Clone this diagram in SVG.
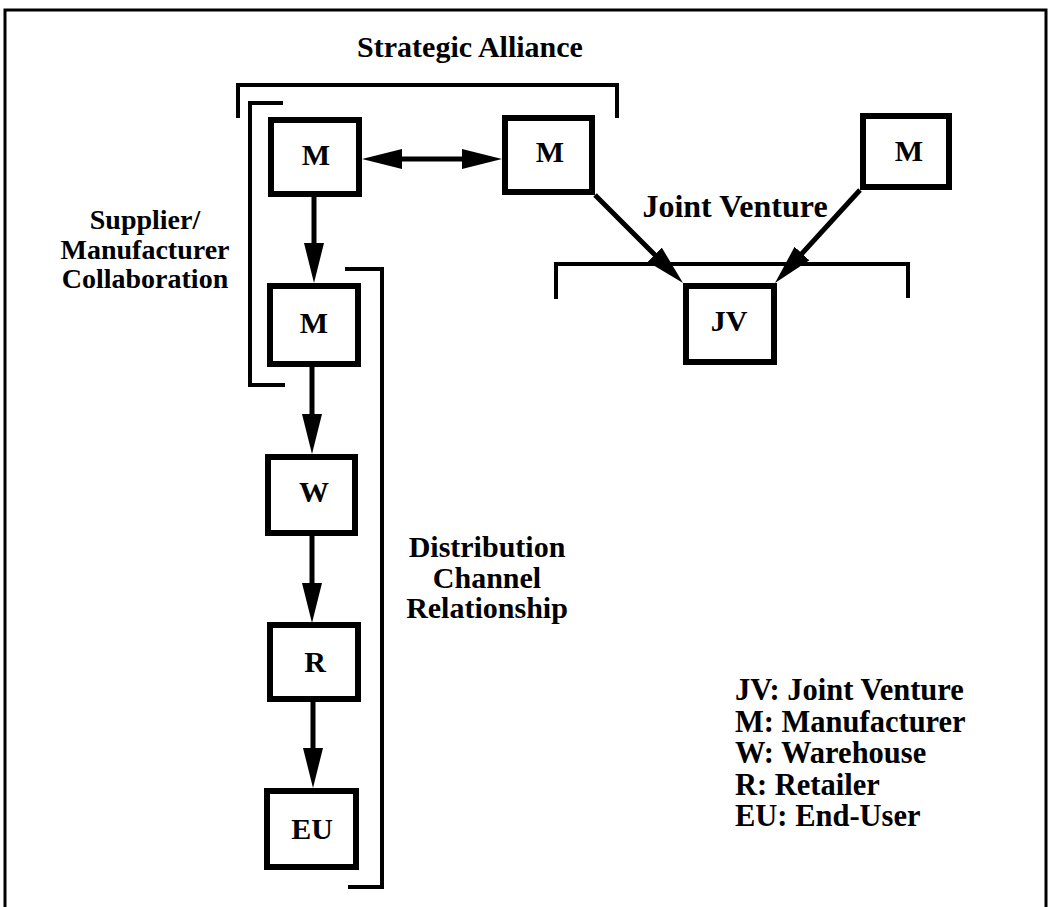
<svg xmlns="http://www.w3.org/2000/svg" width="1048" height="907" viewBox="0 0 1048 907">
<style>
  .box { fill: #fff; stroke: #000; stroke-width: 6; }
  .br { fill: none; stroke: #000; stroke-width: 4; }
  .ar { fill: none; stroke: #000; stroke-width: 5; marker-end: url(#head); }
  text { font-family: "Liberation Serif", "Times New Roman", serif; font-weight: bold; fill: #000; }
  .nl { font-size: 30px; text-anchor: middle; }
  .lb { font-size: 30px; text-anchor: middle; }
  .sm { font-size: 28px; text-anchor: middle; }
  .lg { font-size: 30.5px; }
</style>
<defs>
  <marker id="head" markerUnits="userSpaceOnUse" markerWidth="40" markerHeight="20" refX="5" refY="10" orient="auto-start-reverse" viewBox="0 0 40 20">
    <path d="M0,0 L40,10 L0,20 z" fill="#000"/>
  </marker>
</defs>
<rect x="0" y="0" width="1048" height="907" fill="#fff"/>
<g id="frame">
  <path d="M5,907 V10 H1046 V907" fill="none" stroke="#000" stroke-width="3"/>
</g>
<g id="brackets">
  <path class="br" d="M238,118 V85 H617 V118"/>
  <path class="br" d="M283,103 H250 V385 H285"/>
  <path class="br" d="M345,269 H382 V887 H348"/>
  <path class="br" d="M556,299 V264 H908 V298"/>
</g>
<g id="connectors">
  <line class="ar" x1="397" y1="159" x2="467" y2="159" marker-start="url(#head)"/>
  <line class="ar" x1="314" y1="197" x2="314" y2="248"/>
  <line class="ar" x1="312" y1="367" x2="312" y2="419"/>
  <line class="ar" x1="312" y1="536" x2="312" y2="588"/>
  <line class="ar" x1="313" y1="702" x2="313" y2="753"/>
  <line class="ar" x1="595" y1="195" x2="658.3" y2="258.3"/>
  <line class="ar" x1="860" y1="190" x2="798.6" y2="257.2"/>
</g>
<g id="node-m1"><rect class="box" x="271" y="120" width="88" height="74"/><text class="nl" x="316" y="165">M</text></g>
<g id="node-m2"><rect class="box" x="505" y="118" width="87" height="74"/><text class="nl" x="550" y="162">M</text></g>
<g id="node-m3"><rect class="box" x="863" y="116" width="86" height="71"/><text class="nl" x="909" y="161">M</text></g>
<g id="node-m4"><rect class="box" x="270" y="286" width="88" height="78"/><text class="nl" x="314" y="333">M</text></g>
<g id="node-w"><rect class="box" x="268" y="457" width="87" height="76"/><text class="nl" x="314" y="502">W</text></g>
<g id="node-r"><rect class="box" x="270" y="625" width="88" height="74"/><text class="nl" x="315" y="672">R</text></g>
<g id="node-eu"><rect class="box" x="267" y="791" width="89" height="76"/><text class="nl" x="312" y="839">EU</text></g>
<g id="node-jv"><rect class="box" x="686" y="286" width="88" height="76"/><text class="nl" x="729" y="331">JV</text></g>
<g id="labels">
  <text class="lb" x="470" y="57">Strategic Alliance</text>
  <text class="sm" x="145" y="229">Supplier/</text>
  <text class="sm" x="145" y="259">Manufacturer</text>
  <text class="sm" x="145" y="288">Collaboration</text>
  <text class="lb" x="735" y="217" style="font-size:32px">Joint Venture</text>
  <text class="lb" x="487" y="557">Distribution</text>
  <text class="lb" x="487" y="588">Channel</text>
  <text class="lb" x="487" y="618">Relationship</text>
</g>
<g id="legend">
  <text class="lg" x="735" y="700">JV: Joint Venture</text>
  <text class="lg" x="735" y="731.5">M: Manufacturer</text>
  <text class="lg" x="735" y="763">W: Warehouse</text>
  <text class="lg" x="735" y="794.5">R: Retailer</text>
  <text class="lg" x="735" y="826">EU: End-User</text>
</g>
</svg>
